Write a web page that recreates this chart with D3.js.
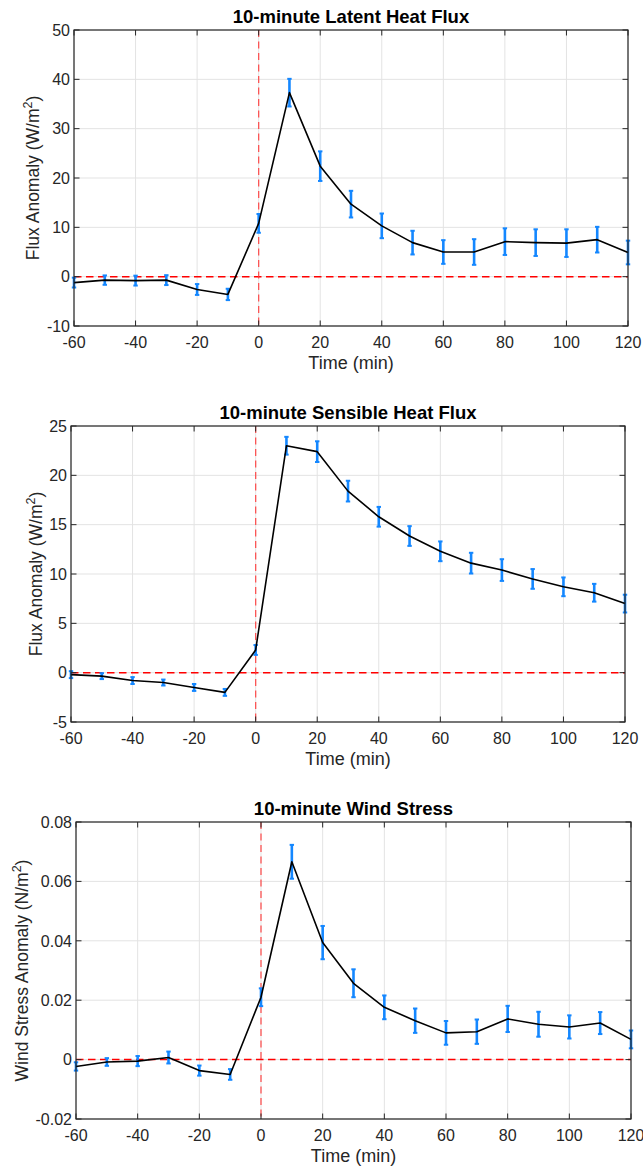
<!DOCTYPE html>
<html>
<head>
<meta charset="utf-8">
<script src="https://cdn.jsdelivr.net/npm/d3@7"></script>
<style>
  html, body { margin: 0; padding: 0; background: #fff; }
  svg { display: block; font-family: "Liberation Sans", Arial, Helvetica, sans-serif; }
</style>
</head>
<body>
<svg id="chart" width="643" height="1166"></svg>
<script>
// ---------- data ----------
const times = [-60, -50, -40, -30, -20, -10, 0, 10, 20, 30, 40, 50, 60, 70, 80, 90, 100, 110, 120];
const xTicks = [-60, -40, -20, 0, 20, 40, 60, 80, 100, 120];
const xTickLabels = ["-60", "-40", "-20", "0", "20", "40", "60", "80", "100", "120"];

const latentMean = [-1.2, -0.7, -0.8, -0.7, -2.6, -3.6, 10.8, 37.3, 22.4, 14.7, 10.3, 6.9, 5.0, 5.0, 7.1, 6.9, 6.8, 7.5, 4.9];
const latentErr  = [1.0, 0.95, 1.0, 1.0, 1.1, 1.15, 1.9, 2.8, 3.0, 2.7, 2.5, 2.4, 2.4, 2.6, 2.7, 2.7, 2.8, 2.6, 2.4];
const latentTicks = [-10, 0, 10, 20, 30, 40, 50];
const latentTickLabels = ["-10", "0", "10", "20", "30", "40", "50"];

const sensibleMean = [-0.2, -0.35, -0.8, -1.0, -1.5, -2.0, 2.3, 23.0, 22.4, 18.4, 15.8, 13.85, 12.3, 11.1, 10.4, 9.5, 8.7, 8.1, 7.0];
const sensibleErr  = [0.35, 0.3, 0.35, 0.3, 0.35, 0.35, 0.5, 0.9, 1.05, 1.05, 1.0, 1.0, 1.0, 1.05, 1.1, 1.0, 0.95, 0.9, 0.9];
const sensibleTicks = [-5, 0, 5, 10, 15, 20, 25];
const sensibleTickLabels = ["-5", "0", "5", "10", "15", "20", "25"];

const stressMean = [-0.0023, -0.0008, -0.0005, 0.0007, -0.0037, -0.005, 0.021, 0.0666, 0.0394, 0.0257, 0.0176, 0.0131, 0.009, 0.0094, 0.0137, 0.0119, 0.011, 0.0123, 0.0068];
const stressErr  = [0.0014, 0.0013, 0.0017, 0.002, 0.0017, 0.0018, 0.003, 0.0057, 0.0056, 0.0047, 0.004, 0.0041, 0.004, 0.0041, 0.0044, 0.0042, 0.0039, 0.0037, 0.003];
const stressTicks = [-0.02, 0, 0.02, 0.04, 0.06, 0.08];
const stressTickLabels = ["-0.02", "0", "0.02", "0.04", "0.06", "0.08"];

const titles = ["10-minute Latent Heat Flux", "10-minute Sensible Heat Flux", "10-minute Wind Stress"];
const yLabelMain = ["Flux Anomaly (W/m", "Flux Anomaly (W/m", "Wind Stress Anomaly (N/m"];
const xLabel = "Time (min)";

// ---------- layout ----------
const panels = [
  { mean: latentMean, err: latentErr, ticks: latentTicks, labels: latentTickLabels,
    title: titles[0], ylab: yLabelMain[0], left: 74, right: 628, top: 30, bottom: 326, ylx: 33 },
  { mean: sensibleMean, err: sensibleErr, ticks: sensibleTicks, labels: sensibleTickLabels,
    title: titles[1], ylab: yLabelMain[1], left: 71, right: 625, top: 426, bottom: 722, ylx: 36 },
  { mean: stressMean, err: stressErr, ticks: stressTicks, labels: stressTickLabels,
    title: titles[2], ylab: yLabelMain[2], left: 76, right: 631, top: 822, bottom: 1119, ylx: 21.5 }
];

const svg = d3.select("#chart");
const axisColor = "#262626";
const gridColor = "#e3e3e3";
const barColor = "#1487ff";
const tickLen = 5.5;

panels.forEach(p => {
  const g = svg.append("g");
  const x = d3.scaleLinear().domain([-60, 120]).range([p.left, p.right]);
  const y = d3.scaleLinear().domain([p.ticks[0], p.ticks[p.ticks.length - 1]]).range([p.bottom, p.top]);

  // grid
  g.append("g").selectAll("line").data(xTicks).join("line")
    .attr("x1", d => x(d)).attr("x2", d => x(d))
    .attr("y1", p.top).attr("y2", p.bottom)
    .attr("stroke", gridColor).attr("stroke-width", 1);
  g.append("g").selectAll("line").data(p.ticks).join("line")
    .attr("x1", p.left).attr("x2", p.right)
    .attr("y1", d => y(d)).attr("y2", d => y(d))
    .attr("stroke", gridColor).attr("stroke-width", 1);

  // reference lines
  g.append("line")
    .attr("x1", p.left).attr("x2", p.right)
    .attr("y1", y(0)).attr("y2", y(0))
    .attr("stroke", "#ff0000").attr("stroke-width", 1.5)
    .attr("stroke-dasharray", "7.5,4.5");
  g.append("line")
    .attr("x1", x(0)).attr("x2", x(0))
    .attr("y1", p.top).attr("y2", p.bottom)
    .attr("stroke", "#ff3b3b").attr("stroke-width", 1.3).attr("stroke-opacity", 0.85)
    .attr("stroke-dasharray", "7,4.5");

  // error bars
  const eb = g.append("g").attr("stroke", barColor).attr("stroke-width", 2.6);
  times.forEach((t, i) => {
    const lo = y(p.mean[i] - p.err[i]);
    const hi = y(p.mean[i] + p.err[i]);
    const cx = x(t);
    eb.append("line").attr("x1", cx).attr("x2", cx).attr("y1", lo).attr("y2", hi);
    eb.append("line").attr("x1", cx - 2.2).attr("x2", cx + 2.2).attr("y1", lo).attr("y2", lo).attr("stroke-width", 2);
    eb.append("line").attr("x1", cx - 2.2).attr("x2", cx + 2.2).attr("y1", hi).attr("y2", hi).attr("stroke-width", 2);
  });

  // mean line
  const line = d3.line().x((d, i) => x(times[i])).y(d => y(d));
  g.append("path").datum(p.mean)
    .attr("d", line).attr("fill", "none")
    .attr("stroke", "#000").attr("stroke-width", 1.6).attr("stroke-linejoin", "round");

  // axes box
  g.append("rect")
    .attr("x", p.left).attr("y", p.top)
    .attr("width", p.right - p.left).attr("height", p.bottom - p.top)
    .attr("fill", "none").attr("stroke", axisColor).attr("stroke-width", 1.2);

  // ticks (inside, all four sides)
  const tk = g.append("g").attr("stroke", axisColor).attr("stroke-width", 1);
  xTicks.forEach(t => {
    tk.append("line").attr("x1", x(t)).attr("x2", x(t)).attr("y1", p.bottom).attr("y2", p.bottom - tickLen);
    tk.append("line").attr("x1", x(t)).attr("x2", x(t)).attr("y1", p.top).attr("y2", p.top + tickLen);
  });
  p.ticks.forEach(t => {
    tk.append("line").attr("x1", p.left).attr("x2", p.left + tickLen).attr("y1", y(t)).attr("y2", y(t));
    tk.append("line").attr("x1", p.right).attr("x2", p.right - tickLen).attr("y1", y(t)).attr("y2", y(t));
  });

  // tick labels
  g.append("g").selectAll("text").data(xTicks).join("text")
    .attr("x", d => x(d)).attr("y", p.bottom + 21.8)
    .attr("text-anchor", "middle").attr("font-size", 16).attr("fill", axisColor)
    .text((d, i) => xTickLabels[i]);
  g.append("g").selectAll("text").data(p.ticks).join("text")
    .attr("x", p.left - 4).attr("y", d => y(d) + 5.7)
    .attr("text-anchor", "end").attr("font-size", 16).attr("fill", axisColor)
    .text((d, i) => p.labels[i]);

  // x label
  g.append("text")
    .attr("x", (p.left + p.right) / 2).attr("y", p.bottom + 42.5)
    .attr("text-anchor", "middle").attr("font-size", 18).attr("fill", axisColor)
    .text(xLabel);

  // y label with superscript
  const yl = g.append("text")
    .attr("transform", `translate(${p.ylx},${(p.top + p.bottom) / 2}) rotate(-90)`)
    .attr("text-anchor", "middle").attr("dy", "0.35em")
    .attr("font-size", 17.5).attr("fill", axisColor);
  yl.append("tspan").text(p.ylab);
  yl.append("tspan").attr("font-size", 12.5).attr("dy", -7).text("2");
  yl.append("tspan").attr("dy", 7).text(")");

  // title
  g.append("text")
    .attr("x", (p.left + p.right) / 2).attr("y", p.top - 7.5)
    .attr("text-anchor", "middle").attr("font-size", 18.5).attr("font-weight", "bold")
    .attr("fill", "#000")
    .text(p.title);
});
</script>
</body>
</html>
